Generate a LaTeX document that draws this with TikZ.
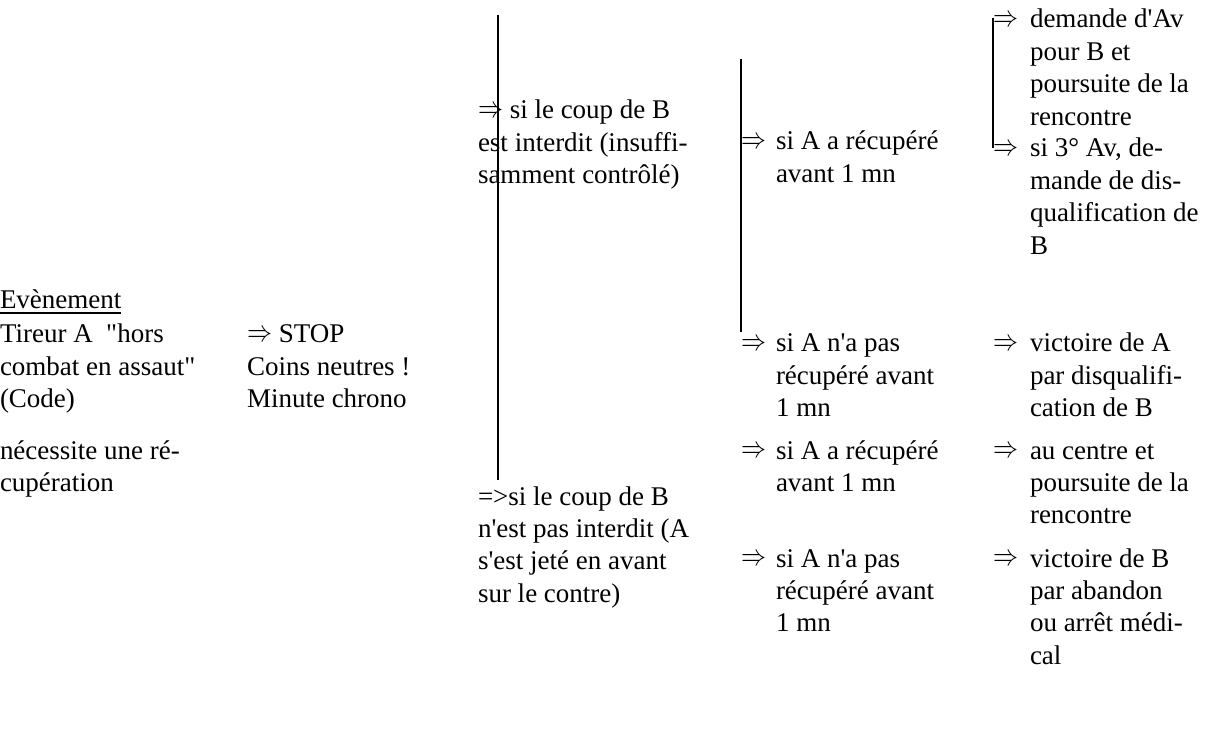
\documentclass[tikz,border=0pt]{standalone}
\usepackage{graphicx}
\usepackage{fontspec}
\setmainfont{Liberation Serif}[Ligatures=TeXOff]
\newcommand{\blocktext}[1]{\begin{tabular}[t]{@{}l@{}}#1\end{tabular}}
\newcommand{\myarrow}{\raisebox{1.5pt}{\resizebox{25pt}{11pt}{\normalsize$\Rightarrow$}}}
\tikzset{
  txt/.style={inner sep=0pt, outer sep=0pt, anchor=base west, font=\fontsize{27}{32.4}\selectfont},
  vline/.style={line width=1.8pt, black},
}
\begin{document}
\begin{tikzpicture}[x=1pt, y=-1pt]
\useasboundingbox (0,0) rectangle (1224,751);
% column 1
\node[txt] (ev) at (0,309) {Evènement};
\draw[line width=1.5pt] ([yshift=-4pt]ev.base west) -- ([yshift=-4pt]ev.base east);
\node[txt] (tireur) at (0,343) {\blocktext{Tireur A\ \ "hors\\ combat en assaut"\\ (Code)}};
\node[txt] (recup) at (0,459) {\blocktext{nécessite une ré-\\ cupération}};
% column 2
\node[txt] (stop) at (247,343) {\blocktext{\myarrow{} STOP\\ Coins neutres !\\ Minute chrono}};
% column 3
\node[txt] (interdit) at (478,119) {\blocktext{\myarrow{} si le coup de B\\ est interdit (insuffi-\\ samment contrôlé)}};
\node[txt] (pasinterdit) at (478,505) {\blocktext{=>si le coup de B\\ n'est pas interdit (A\\ s'est jeté en avant\\ sur le contre)}};
% column 4
\node[txt] (a41) at (741,150) {\myarrow};
\node[txt] (t41) at (776,150) {\blocktext{si A a récupéré\\ avant 1 mn}};
\node[txt] (a42) at (741,352) {\myarrow};
\node[txt] (t42) at (776,352) {\blocktext{si A n'a pas\\ récupéré avant\\ 1 mn}};
\node[txt] (a43) at (741,459) {\myarrow};
\node[txt] (t43) at (776,459) {\blocktext{si A a récupéré\\ avant 1 mn}};
\node[txt] (a44) at (741,567) {\myarrow};
\node[txt] (t44) at (776,567) {\blocktext{si A n'a pas\\ récupéré avant\\ 1 mn}};
% column 5
\node[txt] (a51) at (993,28) {\myarrow};
\node[txt] (t51) at (1030,28) {\blocktext{demande d'Av\\ pour B et\\ poursuite de la\\ rencontre}};
\node[txt] (a52) at (993,157) {\myarrow};
\node[txt] (t52) at (1030,157) {\blocktext{si 3° Av, de-\\ mande de dis-\\ qualification de\\ B}};
\node[txt] (a53) at (993,352) {\myarrow};
\node[txt] (t53) at (1030,352) {\blocktext{victoire de A\\ par disqualifi-\\ cation de B}};
\node[txt] (a54) at (993,459) {\myarrow};
\node[txt] (t54) at (1030,459) {\blocktext{au centre et\\ poursuite de la\\ rencontre}};
\node[txt] (a55) at (993,567) {\myarrow};
\node[txt] (t55) at (1030,567) {\blocktext{victoire de B\\ par abandon\\ ou arrêt médi-\\ cal}};
% vertical lines
\coordinate (v1a) at (498,15);
\coordinate (v1b) at (498,480);
\coordinate (v2a) at (741,59);
\coordinate (v2b) at (741,332);
\coordinate (v3a) at (993,18);
\coordinate (v3b) at (993,148);
\draw[vline] (v1a) -- (v1b);
\draw[vline] (v2a) -- (v2b);
\draw[vline] (v3a) -- (v3b);
\end{tikzpicture}
\end{document}
